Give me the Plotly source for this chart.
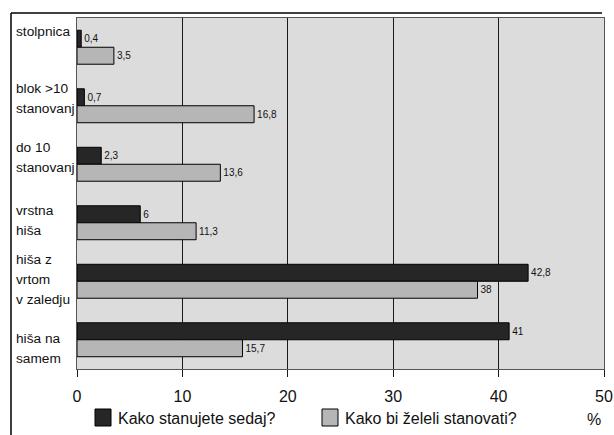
import plotly.graph_objects as go

# Housing type categories (top to bottom) and survey shares in %
categories = ["stolpnica", "blok >10 stanovanj", "do 10 stanovanj",
              "vrstna hiša", "hiša z vrtom v zaledju", "hiša na samem"]
category_lines = [["stolpnica"], ["blok >10", "stanovanj"], ["do 10", "stanovanj"],
                  ["vrstna", "hiša"], ["hiša z", "vrtom", "v zaledju"], ["hiša na", "samem"]]
current = [0.4, 0.7, 2.3, 6, 42.8, 41]
desired = [3.5, 16.8, 13.6, 11.3, 38, 15.7]
series_names = ["Kako stanujete sedaj?", "Kako bi želeli stanovati?"]
x_ticks = [0, 10, 20, 30, 40, 50]

FONT = "Arial, Liberation Sans, Helvetica, sans-serif"
DARK = "#262626"
LIGHT = "#b6b6b6"

# vertical offset (px, downward) of each label's first line from its band centre
label_first_line = [-16, -17, -17, -12, -22, -1]
LINE_STEP = 20

# plot-area geometry in pixels, used to place margin items in paper units
L, R, T, B = 77, 10, 18, 66
W, H = 614, 435
PW, PH = W - L - R, H - T - B


def px_x(px):
    return (px - L) / PW


def px_y(py):
    return (H - B - py) / PH


def fmt(v):
    return f"{v:g}".replace(".", ",")


fig = go.Figure()
for vals, name, color in [(current, series_names[0], DARK),
                          (desired, series_names[1], LIGHT)]:
    fig.add_trace(go.Bar(
        y=categories, x=vals, orientation="h", name=name,
        marker=dict(color=color, line=dict(color="#000000", width=1)),
        text=[fmt(v) for v in vals], textposition="outside",
        textfont=dict(size=10, color="#111111", family=FONT),
        cliponaxis=False, showlegend=False,
    ))

annotations = []
shapes = []

# Left-aligned category labels in the margin, one annotation per line
for cat, lines, off in zip(categories, category_lines, label_first_line):
    for i, line in enumerate(lines):
        annotations.append(dict(
            x=px_x(15), xref="paper", y=cat, yref="y",
            xanchor="left", yanchor="middle", yshift=-(off + LINE_STEP * i),
            align="left", text=line, showarrow=False, borderpad=0,
            font=dict(size=13.7, color="#111111", family=FONT),
        ))

# Legend below the axis: swatch + caption for each series
for name, color, sx in [(series_names[0], DARK, 95), (series_names[1], LIGHT, 322)]:
    shapes.append(dict(
        type="rect", xref="paper", yref="paper",
        x0=px_x(sx), x1=px_x(sx + 16), y0=px_y(426), y1=px_y(409),
        fillcolor=color, line=dict(color="#000000", width=1),
    ))
    annotations.append(dict(
        x=px_x(sx + 22), xref="paper", y=px_y(418), yref="paper",
        xanchor="left", yanchor="middle", text=name, showarrow=False,
        borderpad=0, font=dict(size=16, color="#111111", family=FONT),
    ))

annotations.append(dict(
    x=px_x(594), xref="paper", y=px_y(419), yref="paper",
    xanchor="center", yanchor="middle", text="%", showarrow=False,
    font=dict(size=16, color="#111111", family=FONT),
))

# Outer frame lines (left and top)
shapes += [
    dict(type="line", xref="paper", yref="paper",
         x0=px_x(11), y0=px_y(440), x1=px_x(11), y1=px_y(13),
         line=dict(color="#000000", width=1.5)),
    dict(type="line", xref="paper", yref="paper",
         x0=px_x(11), y0=px_y(13), x1=px_x(602), y1=px_y(13),
         line=dict(color="#000000", width=1.5)),
]

fig.update_layout(
    width=W, height=H,
    margin=dict(l=L, r=R, t=T, b=B, autoexpand=False),
    paper_bgcolor="#ffffff",
    plot_bgcolor="#dcdcdc",
    barmode="group", bargap=0.42, bargroupgap=0,
    font=dict(family=FONT, color="#111111"),
    showlegend=False,
    xaxis=dict(
        range=[0, 50], tickvals=x_ticks, ticktext=[str(t) for t in x_ticks],
        showgrid=True, gridcolor="#1a1a1a", gridwidth=1,
        ticks="outside", ticklen=7, tickcolor="#1a1a1a",
        ticklabelstandoff=6, automargin=False,
        tickfont=dict(size=16, color="#111111", family=FONT),
        showline=True, linecolor="#555555", linewidth=1, mirror=True,
        zeroline=False,
    ),
    yaxis=dict(
        autorange="reversed", showticklabels=False, ticks="",
        showgrid=False, showline=True, linecolor="#555555", linewidth=1,
        mirror=True, automargin=False,
    ),
    annotations=annotations,
    shapes=shapes,
)

fig.write_html("out.html")
